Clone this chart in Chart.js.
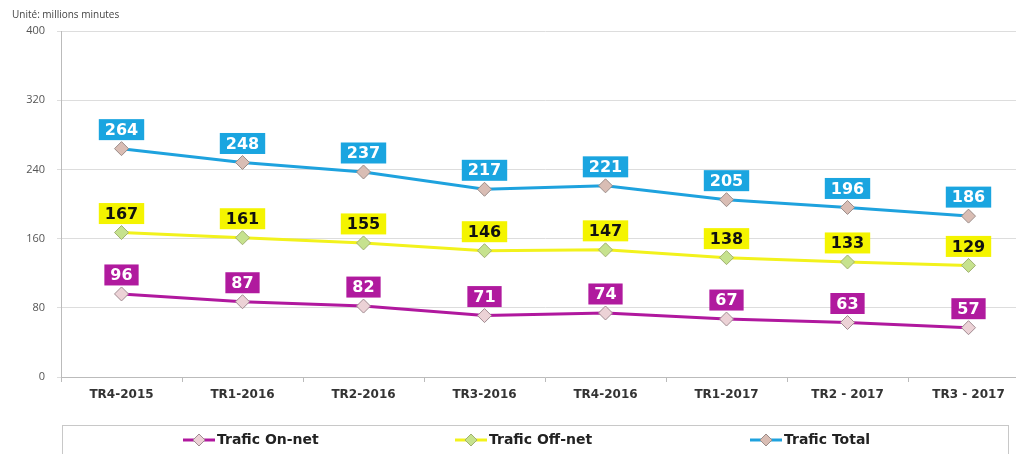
<!DOCTYPE html>
<html>
<head>
<meta charset="utf-8">
<script src="https://cdn.jsdelivr.net/npm/chart.js@4/dist/chart.umd.min.js"></script>
<style>
  html, body { margin: 0; padding: 0; background: #fff; overflow: hidden; width: 1016px; height: 454px; }
  #wrap { width: 1040px; height: 454px; }
</style>
</head>
<body>
<div id="wrap"><canvas id="cizgi" width="1040" height="454"></canvas></div>
<script>
const trimestres = ['TR4-2015', 'TR1-2016', 'TR2-2016', 'TR3-2016', 'TR4-2016', 'TR1-2017', 'TR2 - 2017', 'TR3 - 2017'];
const onNet = [96, 87, 82, 71, 74, 67, 63, 57];
const offNet = [167, 161, 155, 146, 147, 138, 133, 129];
const total = [264, 248, 237, 217, 221, 205, 196, 186];
const yTicks = [0, 80, 160, 240, 320, 400];

// etiketler: renkli kutu + rakam
const etiketPlugin = {
    id: 'etiketler',
    afterDatasetsDraw(chart) {
        const ctx = chart.ctx;
        ctx.save();
        ctx.font = 'bold 16px "DejaVu Sans"';
        ctx.textAlign = 'center';
        ctx.textBaseline = 'middle';
        chart.data.datasets.forEach((ds, i) => {
            chart.getDatasetMeta(i).data.forEach((pt, j) => {
                const txt = String(ds.data[j]);
                const w = ctx.measureText(txt).width + 12;
                const h = 21;
                const cy = pt.y - 19;
                ctx.fillStyle = ds.etiketRenk;
                ctx.fillRect(pt.x - w / 2, cy - h / 2, w, h);
                ctx.fillStyle = ds.etiketYazi;
                ctx.fillText(txt, pt.x, cy + 1);
            });
        });
        ctx.restore();
    }
};

// alt kisimdaki lejant kutusu
const lejantPlugin = {
    id: 'lejant',
    afterDraw(chart) {
        const ctx = chart.ctx;
        ctx.save();
        ctx.strokeStyle = '#c8c8c8';
        ctx.lineWidth = 1;
        ctx.strokeRect(62.5, 425.5, 946, 40);
        const xs = [183, 455, 750];
        ctx.font = 'bold 14px "DejaVu Sans"';
        ctx.textBaseline = 'middle';
        chart.data.datasets.forEach((ds, i) => {
            const x = xs[i], y = 440;
            ctx.strokeStyle = ds.borderColor;
            ctx.lineWidth = 3;
            ctx.beginPath();
            ctx.moveTo(x, y);
            ctx.lineTo(x + 32, y);
            ctx.stroke();
            ctx.beginPath();
            ctx.moveTo(x + 16, y - 6);
            ctx.lineTo(x + 22, y);
            ctx.lineTo(x + 16, y + 6);
            ctx.lineTo(x + 10, y);
            ctx.closePath();
            ctx.fillStyle = ds.pointBackgroundColor;
            ctx.fill();
            ctx.lineWidth = 1;
            ctx.strokeStyle = ds.pointBorderColor;
            ctx.stroke();
            ctx.fillStyle = '#222';
            ctx.fillText(ds.label, x + 34, y);
        });
        ctx.fillStyle = '#444';
        ctx.font = '10px "Open Sans"';
        ctx.textBaseline = 'alphabetic';
        ctx.fillText('Unité: millions minutes', 12, 18);
        ctx.restore();
    }
};

const ctx = document.getElementById('cizgi').getContext('2d');
new Chart(ctx, {
    type: 'line',
    data: {
        labels: trimestres,
        datasets: [{
            label: 'Trafic On-net',
            data: onNet,
            borderColor: '#b0189e',
            borderWidth: 3,
            pointStyle: 'rectRot',
            pointRadius: 7,
            pointBackgroundColor: '#ecd2d6',
            pointBorderColor: '#a08a90',
            pointBorderWidth: 1,
            etiketRenk: '#b01a9e',
            etiketYazi: '#ffffff',
            tension: 0
        }, {
            label: 'Trafic Off-net',
            data: offNet,
            borderColor: '#f2f21c',
            borderWidth: 3,
            pointStyle: 'rectRot',
            pointRadius: 7,
            pointBackgroundColor: '#c6e28e',
            pointBorderColor: '#a0b070',
            pointBorderWidth: 1,
            etiketRenk: '#f4f400',
            etiketYazi: '#111111',
            tension: 0
        }, {
            label: 'Trafic Total',
            data: total,
            borderColor: '#1ea2de',
            borderWidth: 3,
            pointStyle: 'rectRot',
            pointRadius: 7,
            pointBackgroundColor: '#d9bdb4',
            pointBorderColor: '#9a8c88',
            pointBorderWidth: 1,
            etiketRenk: '#1aa5e0',
            etiketYazi: '#ffffff',
            tension: 0
        }]
    },
    options: {
        responsive: false,
        animation: false,
        devicePixelRatio: 1,
        layout: { padding: { left: 0, top: 31, right: 11, bottom: 47 } },
        plugins: { legend: { display: false }, tooltip: { enabled: false } },
        scales: {
            x: {
                offset: true,
                afterFit: s => { s.height = 30; },
                grid: { drawOnChartArea: false, offset: true, tickLength: 5, color: '#bbbbbb' },
                border: { color: '#bbbbbb' },
                ticks: { color: '#333', padding: 6, font: { family: 'DejaVu Sans', size: 12, weight: 'bold' }, maxRotation: 0 }
            },
            y: {
                min: 0,
                max: 400,
                afterFit: s => { s.width = 61; },
                afterBuildTicks: s => { s.ticks = yTicks.map(v => ({ value: v })); },
                grid: { color: '#dddddd', tickLength: 4 },
                border: { color: '#bbbbbb' },
                ticks: { color: '#555', padding: 12, font: { family: 'Open Sans', size: 11 } }
            }
        }
    },
    plugins: [etiketPlugin, lejantPlugin]
});
</script>
</body>
</html>
